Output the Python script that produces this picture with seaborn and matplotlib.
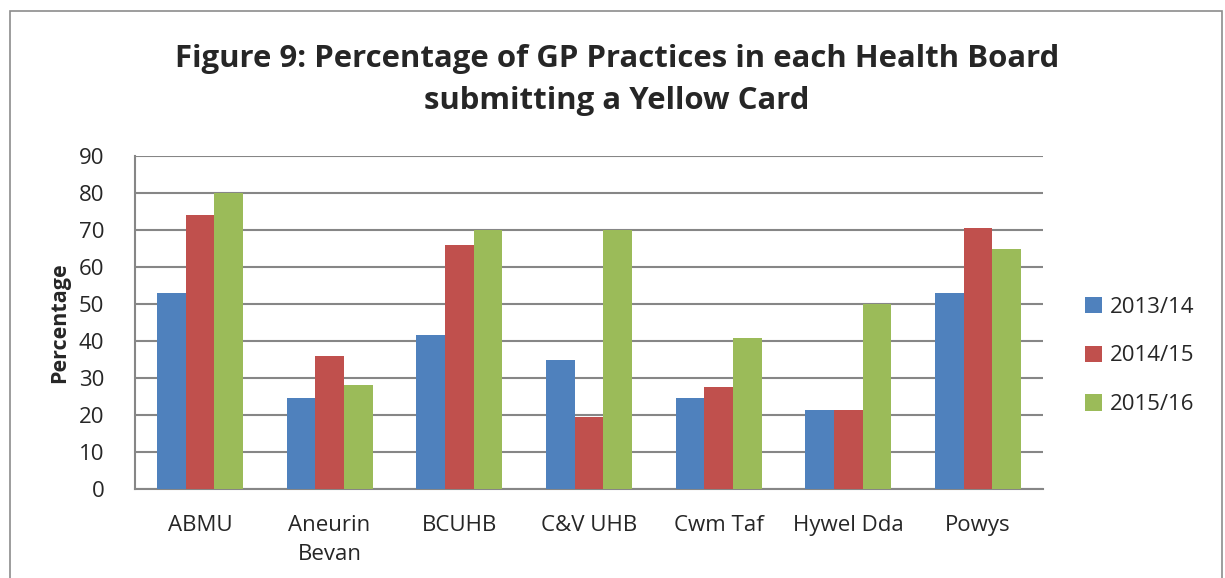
import matplotlib
matplotlib.use("Agg")
import matplotlib.pyplot as plt
import seaborn as sns
import pandas as pd
from matplotlib.patches import Rectangle

categories = ["ABMU", "Aneurin\nBevan", "BCUHB", "C&V UHB", "Cwm Taf", "Hywel Dda", "Powys"]
series_names = ["2013/14", "2014/15", "2015/16"]
values_2013 = [53, 24.7, 41.7, 34.9, 24.5, 21.3, 52.9]
values_2014 = [74, 35.9, 66.0, 19.4, 27.6, 21.3, 70.6]
values_2015 = [80, 28.0, 70.0, 70.0, 40.9, 50.0, 65.0]
colors = ["#4F81BD", "#C0504D", "#9BBB59"]
y_ticks = [0, 10, 20, 30, 40, 50, 60, 70, 80, 90]
title = "Figure 9: Percentage of GP Practices in each Health Board\nsubmitting a Yellow Card"
y_label = "Percentage"

rows = []
for name, vals in zip(series_names, [values_2013, values_2014, values_2015]):
    for c, v in zip(categories, vals):
        rows.append({"Board": c, "Year": name, "Value": v})
df = pd.DataFrame(rows)

sns.set_theme(style="white")
plt.rcParams["font.family"] = ["Open Sans", "DejaVu Sans"]

fig = plt.figure(figsize=(12.25, 5.78), dpi=100)
ax = fig.add_axes([135/1225, 1 - 489/578, (1043-135)/1225, (489-156)/578])

sns.barplot(data=df, x="Board", y="Value", hue="Year", palette=colors,
            order=categories, hue_order=series_names, width=0.663, gap=0,
            saturation=1, ax=ax, zorder=3, edgecolor="none", linewidth=0)

fs = 16
ax.set_ylim(0, 90)
ax.set_yticks(y_ticks)
ax.set_yticklabels([str(t) for t in y_ticks], fontsize=fs)
ax.set_xlim(-0.5, len(categories) - 0.5)
ax.tick_params(axis="x", labelsize=fs, length=0, pad=19)
ax.tick_params(axis="y", length=0, pad=22)
for lbl in ax.get_xticklabels():
    lbl.set_linespacing(1.45)
    lbl.set_verticalalignment("top")
ax.set_xlabel("")
ax.set_ylabel(y_label, fontsize=15.5, fontweight="bold", labelpad=6)
ax.yaxis.grid(True, color="#868686", linewidth=1.5, zorder=0)
ax.set_axisbelow(True)
for s in ["top", "right"]:
    ax.spines[s].set_visible(False)
for s in ["left", "bottom"]:
    ax.spines[s].set_color("#868686")
    ax.spines[s].set_linewidth(1.5)

leg = ax.legend(loc="center left", frameon=False, fontsize=fs,
                handlelength=0.75, handleheight=0.75,
                handletextpad=0.35, labelspacing=1.25, borderaxespad=0,
                borderpad=0)
leg.set_bbox_to_anchor((1085/1225, 1 - 356/578), transform=fig.transFigure)

fig.text(617/1225, 1 - 80/578, title, ha="center", va="center",
         fontsize=22.4, fontweight="bold", linespacing=1.5)

fig.patches.append(Rectangle((10/1225, -0.1), (1222-10)/1225, 0.1 + (578-11)/578,
                             transform=fig.transFigure, fill=False,
                             edgecolor="#8c8c8c", linewidth=1.2))

fig.savefig("out.png", dpi=100)
